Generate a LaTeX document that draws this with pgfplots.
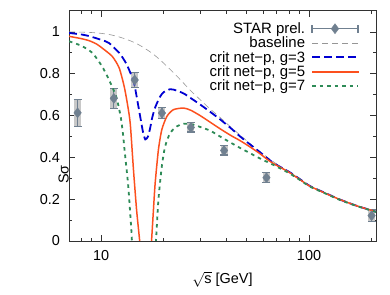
\documentclass[border=0pt]{standalone}
\usepackage{fontspec}
\setmainfont{Liberation Sans}
\usepackage{pgfplots}
\usepackage{pgfplotstable}
\pgfplotsset{compat=1.18}
\definecolor{slate}{RGB}{112,128,144}
\definecolor{sysgray}{RGB}{200,200,200}
\definecolor{cblue}{RGB}{0,0,210}
\definecolor{redorange}{RGB}{252,80,30}
\definecolor{cgreen}{RGB}{46,139,87}
\definecolor{cgray}{RGB}{150,150,150}
\definecolor{axcol}{RGB}{50,50,50}

\pgfplotstableread{
x y e
7.7 0.613 0.065
11.5 0.682 0.048
14.5 0.770 0.036
19.6 0.612 0.028
27 0.543 0.022
39 0.433 0.022
62.4 0.303 0.024
200 0.121 0.028
}\stardata

\pgfplotstableread{
x y
7 1.000
8 0.999
9 0.997
10 0.993
11 0.987
12 0.978
13 0.967
14 0.955
15 0.941
16 0.925
17 0.908
18 0.890
19 0.870
20 0.850
22 0.810
24 0.772
27 0.718
30 0.675
33 0.636
37 0.594
42 0.545
47 0.503
52 0.466
58 0.428
65 0.390
75 0.347
85 0.313
100 0.266
120 0.229
140 0.200
170 0.168
210 0.140
}\baseline

\pgfplotstableread{
x y
7 0.995
8 0.988
8.75 0.980
10 0.962
10.9 0.947
12.2 0.900
13 0.860
13.4 0.835
14 0.790
14.4 0.756
14.9 0.676
15.5 0.580
15.9 0.520
16.3 0.486
16.8 0.500
17.2 0.540
17.6 0.590
18.2 0.640
19.2 0.690
20 0.712
21.5 0.726
23 0.720
25 0.705
27 0.683
30 0.652
33 0.622
37.3 0.582
42 0.540
46.6 0.500
52 0.462
58 0.425
67 0.375
75 0.347
81 0.328
90 0.297
101 0.263
120 0.229
141 0.198
170 0.168
210 0.140
}\gthree

\pgfplotstableread{
x y
7 0.979
8 0.968
8.75 0.958
9.5 0.942
10.1 0.923
11.3 0.883
12.2 0.828
12.9 0.739
13.4 0.650
13.8 0.560
14.3 0.340
14.8 0.149
15.3 0.005
15.6 -0.10
16.4 -0.50
17.2 -0.10
17.5 0.013
17.84 0.149
18.18 0.276
18.85 0.436
19.57 0.532
20.7 0.596
22.25 0.628
24.9 0.636
27 0.625
29.9 0.600
33 0.572
37.3 0.537
42 0.505
46.6 0.480
52 0.450
58 0.418
63 0.390
67 0.372
75 0.345
81 0.326
90 0.295
101 0.262
120 0.228
141 0.198
170 0.168
210 0.140
}\gfive

\pgfplotstableread{
x y
7 0.955
7.5 0.945
8.13 0.931
9.08 0.899
10.1 0.835
10.9 0.771
11.8 0.691
12.4 0.596
12.7 0.520
13.0 0.420
13.5 0.260
14.0 0.037
14.2 -0.05
16.2 -0.60
18.2 -0.05
18.38 0.013
18.85 0.196
19.57 0.356
20.3 0.452
21.46 0.516
23.1 0.548
24.9 0.561
27.8 0.556
30 0.545
33.4 0.528
37 0.502
41.7 0.472
46.6 0.445
52 0.420
58 0.395
67 0.365
75 0.340
81 0.322
90 0.293
101 0.260
120 0.227
141 0.196
170 0.167
210 0.139
}\gseven

\begin{document}
\begin{tikzpicture}
\begin{axis}[
  name=ax,
  scale only axis, width=307bp, height=230bp,
  xmode=log, xmin=7, xmax=210, ymin=0, ymax=1.1,
  xtick={10,100}, xticklabels={10,100},
  minor xtick={7,8,9,20,30,40,50,60,70,80,90,200},
  ytick={0,0.2,0.4,0.6,0.8,1}, yticklabels={0,0.2,0.4,0.6,0.8,1},
  minor ytick={0.1,0.3,0.5,0.7,0.9},
  tick align=inside, major tick length=6bp, minor tick length=3bp,
  axis line style={axcol, line width=1pt},
  every tick/.style={axcol, line width=0.8pt},
  tick label style={font=\fontsize{14.5}{16}\selectfont},
  xticklabel style={yshift=-6bp},
  yticklabel style={xshift=-5.5bp},
  xlabel={\ensuremath{\sqrt{\mbox{s}}}\ [GeV]},
  ylabel={Sσ},
  every axis x label/.style={at={(axis description cs:0.5,0)}, anchor=base, yshift=-43bp, font=\fontsize{14.5}{16}\selectfont},
  every axis y label/.style={at={(axis description cs:0,0.51)}, rotate=90, anchor=south, inner sep=0pt, xshift=-51bp, font=\fontsize{14.5}{16}\selectfont},
  legend plot pos=right,
  legend cell align=right,
  legend style={draw=none, fill=none, at={(0.945,0.955)}, anchor=north east,
    font=\fontsize{15}{17}\selectfont, inner sep=0pt, column sep=4bp, row sep=0pt,
    nodes={inner xsep=2bp, inner ysep=1bp}},
]
\addplot[forget plot, draw=none, mark=none,
  error bars/.cd, y dir=both, y explicit,
  error bar style={line width=7bp, sysgray}, error mark=none]
  table[x=x, y=y, y error=e]{\stardata};
\addplot[forget plot, only marks, mark=diamond*, mark size=5bp,
  mark options={fill=slate, draw=slate},
  error bars/.cd, y dir=both, y explicit,
  error bar style={line width=1.2pt, slate},
  error mark options={line width=1.2pt, slate, mark size=4bp, rotate=90}]
  table[x=x, y=y, y error=e]{\stardata};
\addplot[forget plot, color=cgray, line width=0.6pt, dash pattern=on 6bp off 4bp, smooth, tension=0.4] table[x=x,y=y]{\baseline};
\addplot[forget plot, color=cblue, line width=1.8pt, dash pattern=on 8bp off 4bp, smooth, tension=0.4] table[x=x,y=y]{\gthree};
\addplot[forget plot, color=redorange, line width=1.5pt, smooth, tension=0.4] table[x=x,y=y]{\gfive};
\addplot[forget plot, color=cgreen, line width=1.8pt, dash pattern=on 3.5bp off 4bp, smooth, tension=0.4] table[x=x,y=y]{\gseven};

\addlegendimage{legend image code/.code={
  \draw[slate, line width=1.2pt] (0bp,0bp) -- (46bp,0bp);
  \draw[slate, line width=1.2pt] (0bp,-4bp) -- (0bp,4bp) (46bp,-4bp) -- (46bp,4bp);
  \fill[slate] (23bp,5bp) -- (26.75bp,0bp) -- (23bp,-5bp) -- (19.25bp,0bp) -- cycle;}}
\addlegendentry{STAR prel.}
\addlegendimage{legend image code/.code={
  \draw[cgray, line width=0.6pt, dash pattern=on 6bp off 4bp] (0bp,0bp) -- (46bp,0bp);}}
\addlegendentry{baseline}
\addlegendimage{legend image code/.code={
  \draw[cblue, line width=1.8pt, dash pattern=on 8bp off 4bp] (0bp,0bp) -- (46bp,0bp);}}
\addlegendentry{crit net\textminus p, g=3}
\addlegendimage{legend image code/.code={
  \fill[redorange] (0bp,-0.8bp) rectangle (46bp,0.8bp);}}
\addlegendentry{crit net\textminus p, g=5}
\addlegendimage{legend image code/.code={
  \draw[cgreen, line width=1.8pt, dash pattern=on 3.5bp off 4bp] (0bp,0bp) -- (46bp,0bp);}}
\addlegendentry{crit net\textminus p, g=7}
\end{axis}
\pgfresetboundingbox
\path ([xshift=-69bp,yshift=-54bp]ax.south west) rectangle ([xshift=14bp,yshift=11bp]ax.north east);
\end{tikzpicture}
\end{document}
